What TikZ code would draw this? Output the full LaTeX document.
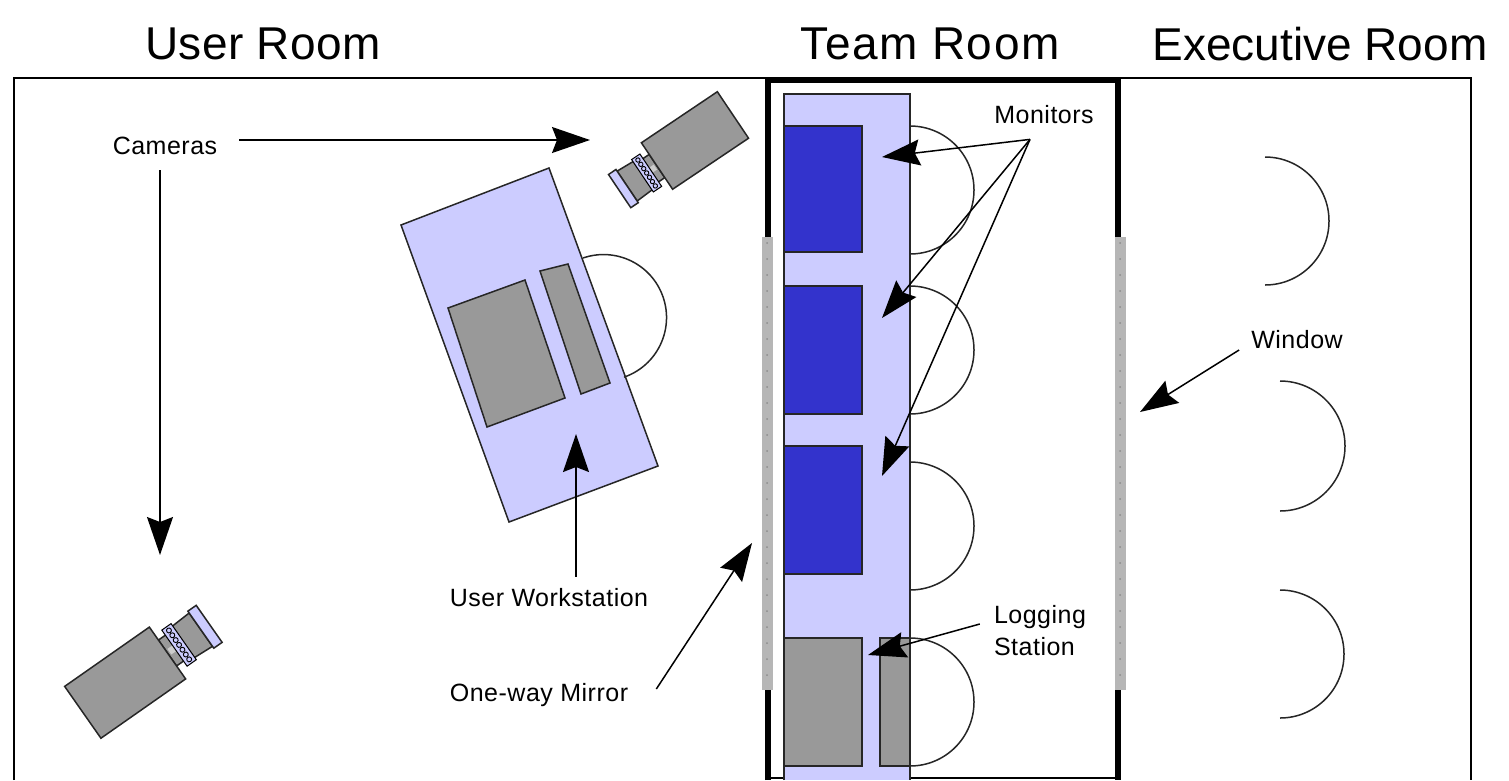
\documentclass[tikz,border=0pt]{standalone}
\usepackage{fontspec}
\setmainfont{Liberation Sans}
\usepackage{xcolor}
\usetikzlibrary{arrows.meta}
\definecolor{deskblue}{HTML}{CCCCFF}
\definecolor{monitorblue}{HTML}{3333CC}
\definecolor{kitgrey}{HTML}{999999}
\definecolor{glassgrey}{HTML}{B6B6B6}
\tikzstyle{every node}=[inner sep=0pt]
\tikzstyle{roomtitle}=[font=\fontsize{46}{50}\selectfont]
\tikzstyle{tag}=[font=\fontsize{25}{32}\selectfont\addfontfeature{LetterSpace=2},align=left]
\tikzstyle{wall}=[draw=black,line width=1.3pt]
\tikzstyle{teamwall}=[draw=black,line width=5.5pt]
\tikzstyle{glass}=[fill=glassgrey,draw=none]
\tikzstyle{furniture}=[draw=black!85,line width=1.5pt]
\tikzstyle{chair}=[draw=black!85,line width=1.5pt]
\tikzstyle{pointer}=[draw=black,line width=1.5pt,-{Stealth[length=38pt,width=26pt,inset=5pt]}]
\tikzset{
	camera/.pic={
		\draw[furniture,fill=kitgrey] (0,-14) -- (8,-14) -- (8,14) -- (0,14) -- cycle;
		\fill[black!20] (2,-3) rectangle (8,3);
		\draw[furniture,fill=kitgrey] (-91.5,-28) rectangle (0,28);
		\draw[furniture,fill=kitgrey] (17,-17) -- (36,-18) -- (36,18) -- (17,17) -- cycle;
		\draw[black,line width=1pt,fill=deskblue] (7.5,-19.5) rectangle (17.5,19.5);
		\foreach \v in {-15.6,-10.4,...,15.7}
			\draw[black,line width=0.9pt] (12.5,\v) circle[radius=2.2pt];
		\draw[furniture,fill=deskblue] (36,-20) rectangle (45,20);
	}
}

\begin{document}
\begin{tikzpicture}[x=1pt,y=-1pt]
	\useasboundingbox (0,0) rectangle (1509,780);

	% walls and windows
	\draw[wall] (14,780) -- (14,78) -- (1471,78) -- (1471,780);
	\draw[wall] (768,778) -- (1118,778);
	\draw[teamwall] (768,780) -- (768,80) -- (1118,80) -- (1118,780);
	\fill[glass] (762,237) rectangle (773,690);
	\fill[glass] (1115,237) rectangle (1126,690);
	\foreach \spot in {243,259,...,685} {
		\fill[black!45] (767,\spot) circle[radius=1pt];
		\fill[black!45] (1120,\spot) circle[radius=1pt];
	}

	% team room desk
	\draw[furniture,fill=deskblue] (784,780) -- (784,94) -- (910,94) -- (910,780);
	\draw[furniture,fill=monitorblue] (784,126) rectangle (862,252);
	\draw[furniture,fill=monitorblue] (784,286) rectangle (862,414);
	\draw[furniture,fill=monitorblue] (784,446) rectangle (862,574);
	\draw[furniture,fill=kitgrey] (784,638) rectangle (862,766);
	\draw[furniture,fill=kitgrey] (880,638) rectangle (910,766);
	\foreach \top in {126,286,462,638}
		\draw[chair] (910,\top) arc[start angle=90,end angle=-90,radius=64pt];

	% executive room chairs
	\draw[chair] (1265,157) arc[start angle=90,end angle=-90,radius=64pt];
	\draw[chair] (1280,381) arc[start angle=90,end angle=-90,radius=65pt];
	\draw[chair] (1280,590) arc[start angle=90,end angle=-90,radius=64pt];

	% user room
	\draw[furniture,fill=deskblue] (401,225) -- (549,168) -- (658,466) -- (509,522) -- cycle;
	\draw[furniture,fill=kitgrey] (448,308) -- (525,280) -- (565,398) -- (487,427) -- cycle;
	\draw[furniture,fill=kitgrey] (540,271) -- (568,264) -- (610,383) -- (581,394) -- cycle;
	\draw[chair] (583,258) arc[start angle=109,end angle=-71,radius=63pt];
	\pic[rotate=213.9] at (657,166) {camera};
	\pic[rotate=35,scale=1.13] at (167.5,653) {camera};

	% titles
	\node[roomtitle] (userroom) at (263,44) {\addfontfeature{LetterSpace=1}User Room};
	\node[roomtitle] (teamroom) at (930,44) {\addfontfeature{LetterSpace=3.5}Team Room};
	\node[roomtitle] (execroom) at (1320,44) {Executive Room};

	% labels
	\node[tag] (cameras) at (165,146) {Cameras};
	\node[tag] (monitors) at (1044,115) {Monitors};
	\node[tag] (window) at (1297,340) {Window};
	\node[tag] (workstation) at (549,598) {User Workstation};
	\node[tag] (mirror) at (539,695) {One-way Mirror};
	\node[tag] (logging) at (1040,631) {Logging\\Station};

	% arrow tips
	\coordinate (tipcamtop) at (590,140);
	\coordinate (tipcamlow) at (160,555);
	\coordinate (tipmonone) at (882,157);
	\coordinate (tipmontwo) at (882,318);
	\coordinate (tipmonthree) at (882,476);
	\coordinate (tipwindow) at (1140,412);
	\coordinate (tipdesk) at (576,434);
	\coordinate (tipmirror) at (752,543);
	\coordinate (tiplog) at (868,655);

	\draw[pointer] ([xshift=22pt]cameras.east |- tipcamtop) -- (tipcamtop);
	\draw[pointer] ([yshift=-15pt]cameras.south -| tipcamlow) -- (tipcamlow);
	\draw[pointer] ([xshift=-14pt,yshift=-15pt]monitors.south) -- (tipmonone);
	\draw[pointer] ([xshift=-14pt,yshift=-15pt]monitors.south) -- (tipmontwo);
	\draw[pointer] ([xshift=-14pt,yshift=-15pt]monitors.south) -- (tipmonthree);
	\draw[pointer] ([xshift=-12pt,yshift=-10pt]window.west) -- (tipwindow);
	\draw[pointer] ([yshift=12pt]workstation.north -| tipdesk) -- (tipdesk);
	\draw[pointer] ([xshift=28pt,yshift=6pt]mirror.east) -- (tipmirror);
	\draw[pointer] ([xshift=-14pt,yshift=7pt]logging.west) -- (tiplog);
\end{tikzpicture}
\end{document}
